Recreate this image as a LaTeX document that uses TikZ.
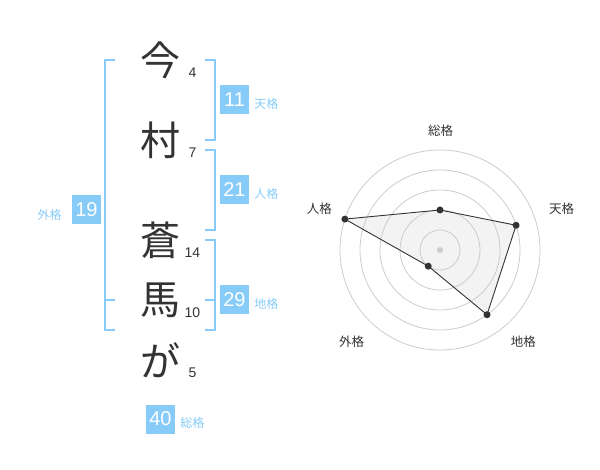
\documentclass[tikz,border=0pt]{standalone}
\usepackage{fontspec}
\setmainfont{Liberation Sans}
\newfontfamily\jpfont{Noto Sans CJK JP}
\definecolor{kakublue}{RGB}{135,204,248}
\definecolor{inkgray}{RGB}{51,51,51}

\begin{document}
\begin{tikzpicture}[
    x=1pt, y=-1pt,
    bracket/.style={draw=kakublue, line width=2pt, line join=miter},
    kanji/.style={text=inkgray, font=\jpfont\fontsize{40}{40}\selectfont, inner sep=0pt},
    strokes/.style={text=inkgray, font=\fontsize{14}{14}\selectfont, inner sep=0pt},
    kakubox/.style={fill=kakublue, text=white, minimum size=29pt, inner sep=0pt, font=\fontsize{20}{20}\selectfont},
    kakulabel/.style={text=kakublue, font=\jpfont\fontsize{12}{12}\selectfont, inner sep=0pt},
    axislabel/.style={text=inkgray, font=\jpfont\fontsize{12.5}{12.5}\selectfont, inner sep=0pt},
    ring/.style={draw=black!20, line width=0.8pt},
    dot/.style={circle, fill=inkgray, inner sep=0pt, minimum size=7pt},
    ]
    \useasboundingbox (0,0) rectangle (600,470);

    % name, one character per line
    \node[kanji] (c1) at (160,60) {今};
    \node[kanji] (c2) at (160,140) {村};
    \node[kanji] (c3) at (160,240) {蒼};
    \node[kanji] (c4) at (160,300) {馬};
    \node[kanji] (c5) at (160,360) {が};
    \node[strokes] (s1) at (192.5,73) {4};
    \node[strokes] (s2) at (192.5,153) {7};
    \node[strokes] (s3) at (192.5,253) {14};
    \node[strokes] (s4) at (192.5,313) {10};
    \node[strokes] (s5) at (192.5,373) {5};

    % brackets
    \coordinate (ten1) at (205,60);
    \coordinate (ten2) at (205,140);
    \draw[bracket] (ten1) -- ++(10,0) -- ++(0,80) -- (ten2);
    \coordinate (jin1) at (205,150);
    \coordinate (jin2) at (205,230);
    \draw[bracket] (jin1) -- ++(10,0) -- ++(0,80) -- (jin2);
    \coordinate (chi1) at (205,240);
    \coordinate (chi2) at (205,330);
    \draw[bracket] (chi1) -- ++(10,0) -- ++(0,90) -- (chi2);
    \draw[bracket] (chi1) ++(10,60) -- ++(-10,0);
    \coordinate (gai1) at (115,60);
    \coordinate (gai2) at (115,330);
    \draw[bracket] (gai1) -- ++(-10,0) -- ++(0,270) -- (gai2);
    \draw[bracket] (gai1) ++(-10,240) -- ++(10,0);

    % totals
    \node[kakubox] (ten) at (234.5,99.5) {11};
    \node[kakulabel, anchor=west] (tenl) at ([shift={(5,4)}]ten.east) {天格};
    \node[kakubox] (jin) at (234.5,189.5) {21};
    \node[kakulabel, anchor=west] (jinl) at ([shift={(5,4)}]jin.east) {人格};
    \node[kakubox] (chi) at (234.5,300) {29};
    \node[kakulabel, anchor=west] (chil) at ([shift={(5,4)}]chi.east) {地格};
    \node[kakubox] (gai) at (86.5,209.5) {19};
    \node[kakulabel, anchor=east] (gail) at ([shift={(-10,5)}]gai.west) {外格};
    \node[kakubox] (sou) at (160.5,419) {40};
    \node[kakulabel, anchor=west] (soul) at ([shift={(5,4)}]sou.east) {総格};

    % radar chart
    \begin{scope}[shift={(440,250)}, yscale=-1]
        \coordinate (o) at (0,0);
        \coordinate (p1) at (90:40);
        \coordinate (p2) at (18:80);
        \coordinate (p3) at (-54:80);
        \coordinate (p4) at (-126:20);
        \coordinate (p5) at (162:100);
        \fill[black!6, fill opacity=0.8] (p1) -- (p2) -- (p3) -- (p4) -- (p5) -- cycle;
        \draw[ring] (o) circle (20);
        \draw[ring] (o) circle (40);
        \draw[ring] (o) circle (60);
        \draw[ring] (o) circle (80);
        \draw[ring] (o) circle (100);
        \fill[black!20] (o) circle (3);
        \draw[inkgray, line width=0.9pt] (p1) -- (p2) -- (p3) -- (p4) -- (p5) -- cycle;
        \foreach \p in {p1,p2,p3,p4,p5}
            \node[dot] at (\p) {};
    \end{scope}
    \node[axislabel] (a1) at (440.5,130.5) {総格};
    \node[axislabel] (a2) at (561.7,208.3) {天格};
    \node[axislabel] (a3) at (523.3,341.7) {地格};
    \node[axislabel] (a4) at (351.7,341.7) {外格};
    \node[axislabel] (a5) at (319.3,208.3) {人格};
\end{tikzpicture}
\end{document}
